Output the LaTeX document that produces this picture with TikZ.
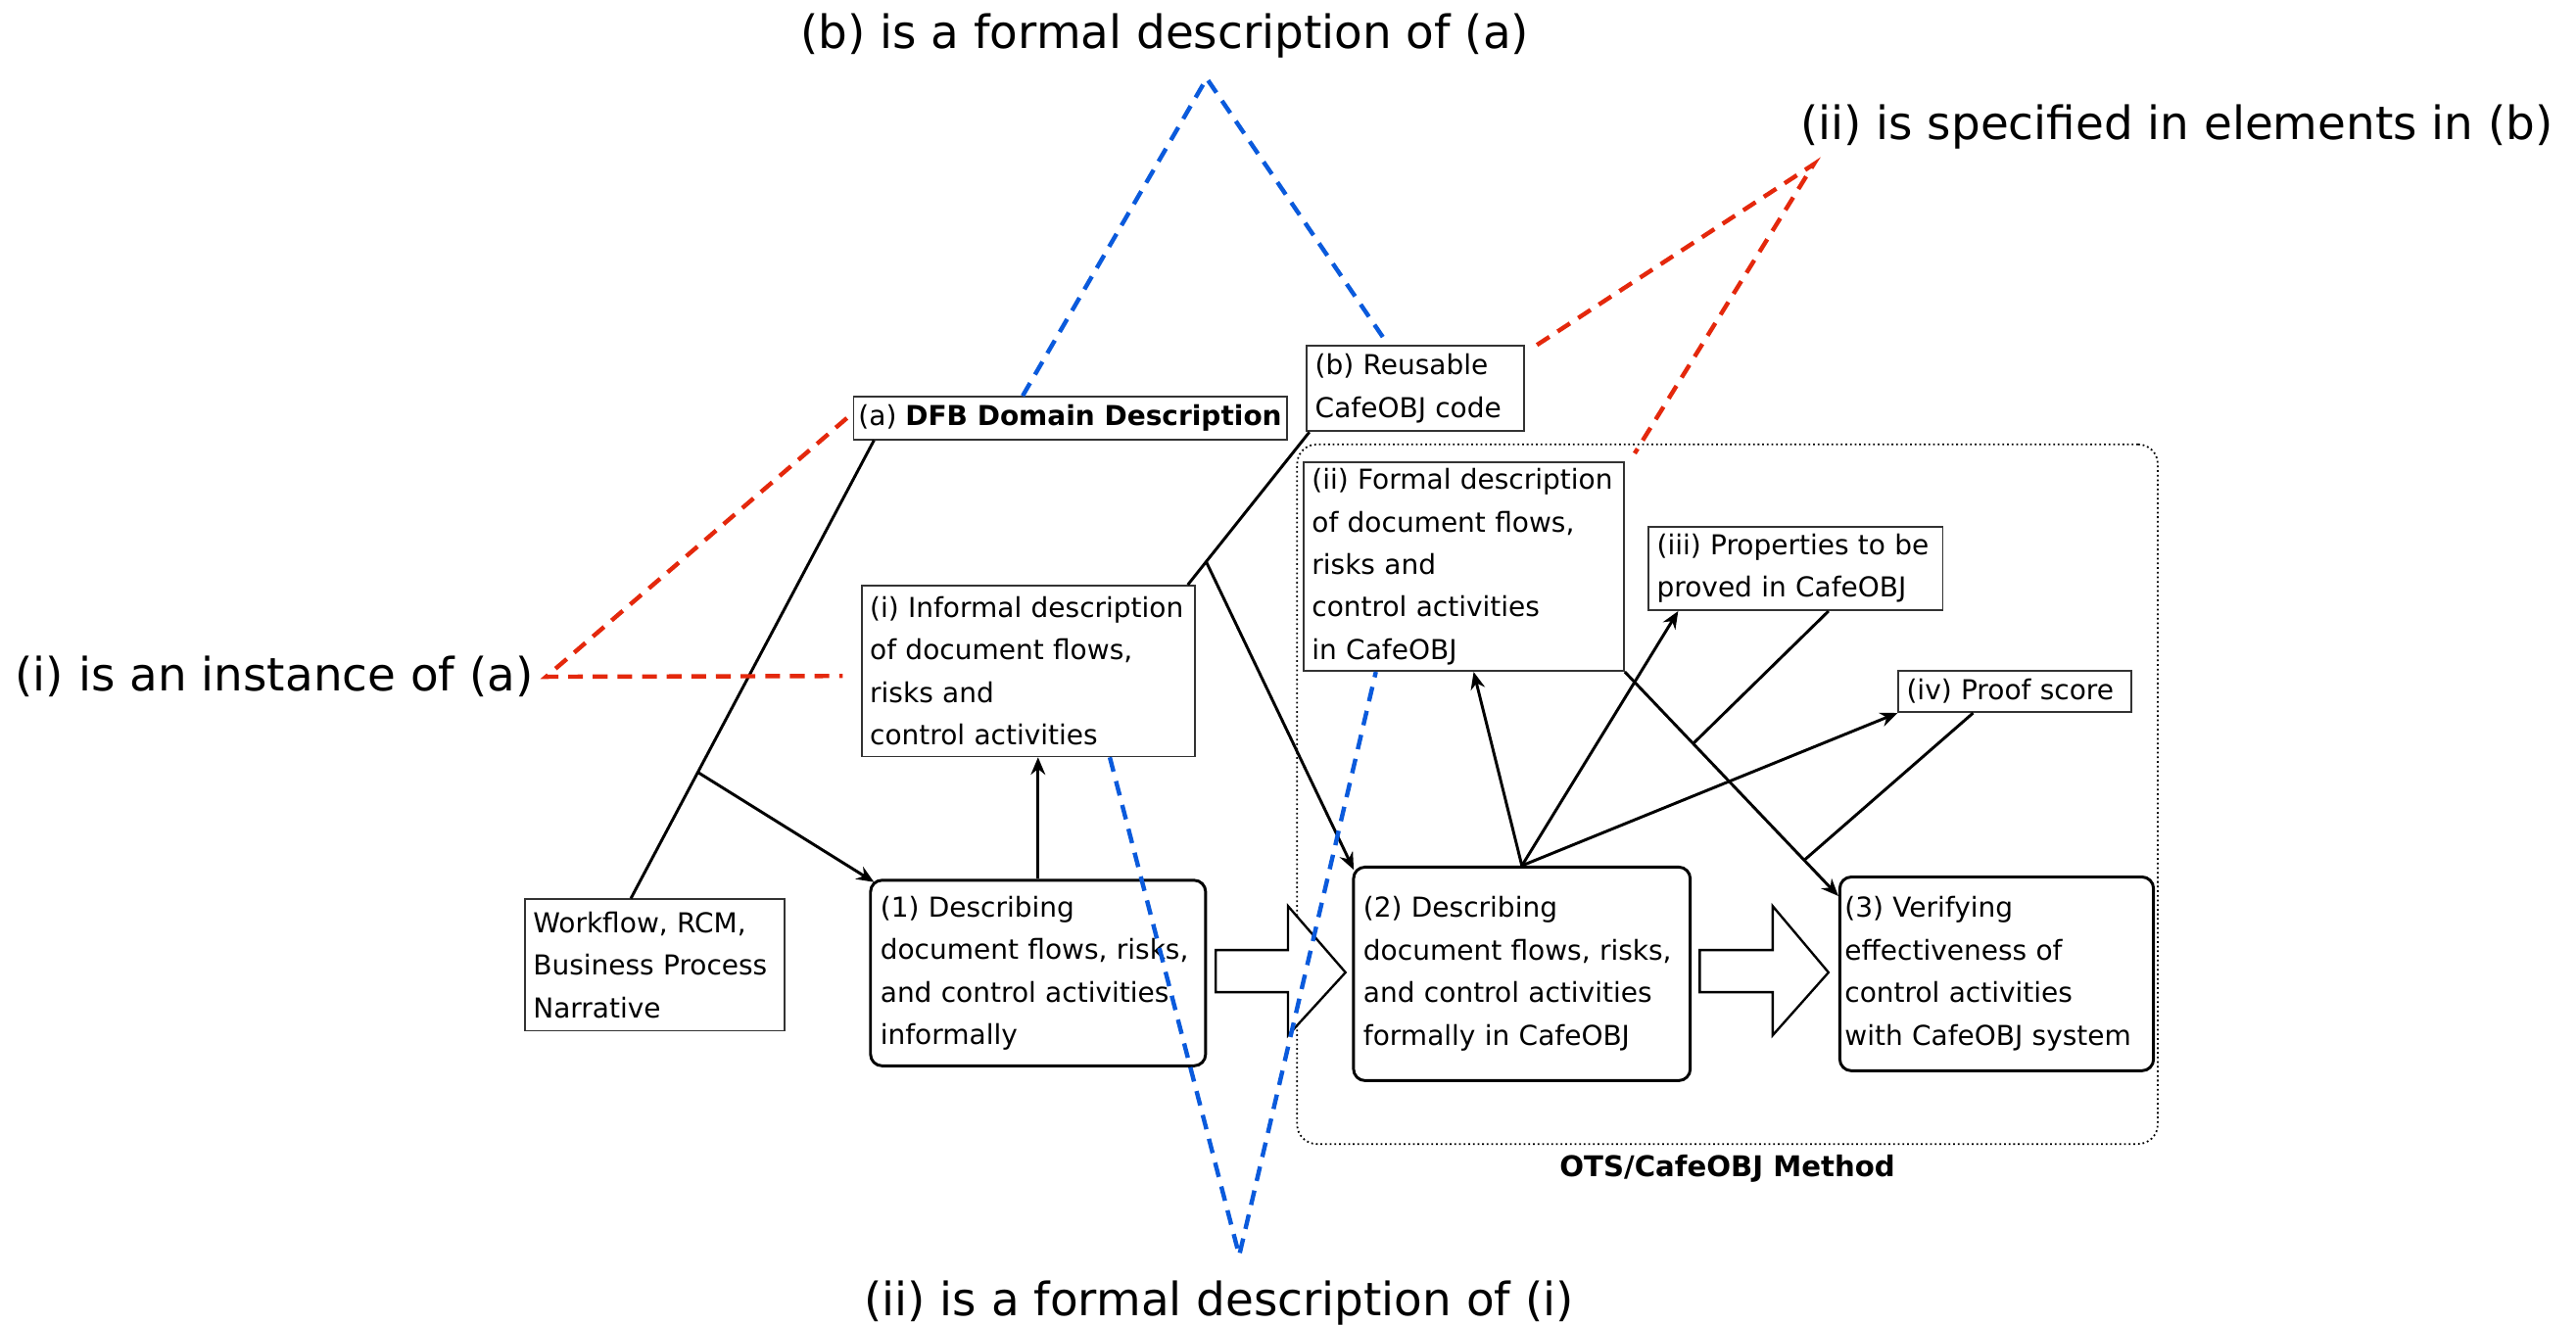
\documentclass[tikz,border=0pt]{standalone}
\usepackage{fontspec}
\setmainfont{DejaVu Sans}
\usepackage{tikz}
\usetikzlibrary{arrows.meta, positioning, calc}
\definecolor{dashblue}{RGB}{10,90,220}
\definecolor{dashred}{RGB}{228,40,12}
\tikzset{
  box/.style={rectangle, draw=black!80, line width=0.6pt, anchor=north west,
    align=left, inner xsep=0.1cm, inner ysep=0.05cm,
    font=\fontsize{9.5}{14.74}\selectfont},
  stepbox/.style={box, draw=black, line width=1pt, rounded corners=4pt, inner xsep=0.12cm},
  methodbox/.style={rectangle, draw=black, densely dotted, line width=0.6pt,
    rounded corners=0.24cm, anchor=north west},
  arrow/.style={-{Stealth[length=6pt,width=5pt]}, line width=1pt},
  link/.style={line width=1pt},
  fatarrow/.style={draw, fill=white, line width=0.8pt, line join=miter},
  bluedash/.style={dashblue, line width=1.5pt, dash pattern=on 0.18cm off 0.12cm},
  reddash/.style={dashred, line width=1.5pt, dash pattern=on 0.18cm off 0.12cm},
  anno/.style={font=\fontsize{15.9}{19}\selectfont, inner sep=0pt}
}

\begin{document}
\begin{tikzpicture}[x=0.02cm, y=-0.02cm]
  \useasboundingbox (0,0) rectangle (1568,807);

  % OTS/CafeOBJ frame
  \node[methodbox, minimum width=10.48cm, minimum height=8.52cm] (method) at (789,270) {};
  \node[below=0pt of method, font=\fontsize{9.9}{12}\selectfont\bfseries] (methodlbl) {OTS/CafeOBJ Method};

  % boxes
  \node[box, inner xsep=0.06cm, minimum width=5.24cm, minimum height=0.52cm] (descA) at (519,241) {(a) \textbf{DFB Domain Description}};
  \node[box, text width=2.44cm, minimum height=1.04cm] (codeB) at (795,210) {(b) Reusable\\CafeOBJ code};
  \node[box, text width=3.86cm, minimum height=2.08cm] (infoI) at (524,356) {(i) Informal description\\of document flows,\\risks and\\control activities};
  \node[box, text width=2.96cm, minimum height=1.6cm] (workflow) at (319,547) {Workflow, RCM,\\Business Process\\Narrative};
  \node[box, text width=3.7cm, minimum height=2.54cm] (formII) at (793,281) {(ii) Formal description\\of document flows,\\risks and\\control activities\\in CafeOBJ};
  \node[box, text width=3.38cm, minimum height=1.02cm] (propIII) at (1003,320) {(iii) Properties to be\\proved in CafeOBJ};
  \node[box, text width=2.64cm, minimum height=0.5cm] (proofIV) at (1155,408) {(iv) Proof score};

  % steps
  \node[stepbox, text width=3.84cm, minimum height=2.26cm] (step1) at (529,535) {(1) Describing\\document flows, risks,\\and control activities\\informally};
  \node[stepbox, text width=3.86cm, minimum height=2.6cm] (step2) at (823,527) {(2) Describing\\document flows, risks,\\and control activities\\formally in CafeOBJ};
  \node[stepbox, inner xsep=0.06cm, text width=3.7cm, minimum height=2.36cm] (step3) at (1119,533) {(3) Verifying\\effectiveness of\\control activities\\with CafeOBJ system};

  % fat arrows between steps
  \draw[fatarrow] (740,578.4) -- (784,578.4) -- (784,551.6) -- (819,592) -- (784,630.3) -- (784,604) -- (740,604) -- cycle;
  \draw[fatarrow] (1034.6,578.4) -- (1079,578.4) -- (1079,551.6) -- (1113,592) -- (1079,630.3) -- (1079,604) -- (1034.6,604) -- cycle;

  % inputs of (1)
  \draw[link] ([xshift=0.26cm]descA.south west) coordinate (aFoot)
    -- ([xshift=1.3cm]workflow.north west) coordinate (wHead);
  \coordinate (joinA) at ($(aFoot)!0.7245!(wHead)$);
  \draw[arrow] (joinA) -- ([shift={(0.06cm,-0.04cm)}]step1.north west);
  \draw[arrow] (step1.north) -- (step1.north |- infoI.south);

  % inputs of (2)
  \draw[link] ([xshift=0.04cm]codeB.south west) coordinate (bFoot)
    -- ([xshift=-0.1cm]infoI.north east) coordinate (iHead);
  \coordinate (joinB) at ($(bFoot)!0.849!(iHead)$);
  \draw[arrow] (joinB) -- ([shift={(0.02cm,-0.05cm)}]step2.north west);

  % outputs of (2)
  \draw[arrow] (step2.north) -- ([xshift=0.12cm]formII.south);
  \draw[arrow] (step2.north) -- ([xshift=0.37cm]propIII.south west);
  \draw[arrow] (step2.north) -- (proofIV.south west);

  % inputs of (3)
  \draw[arrow] (formII.south east) coordinate (iiFoot)
    -- ([yshift=-0.25cm]step3.north west) coordinate (vHead);
  \coordinate (joinIII) at ($(iiFoot)!0.32!(vHead)$);
  \coordinate (joinIV) at ($(iiFoot)!0.84!(vHead)$);
  \draw[link] ([xshift=0.4cm]propIII.south) -- (joinIII);
  \draw[link] ([xshift=-0.51cm]proofIV.south) -- (joinIV);

  % (b) is a formal description of (a)
  \node[anno] (annoB) at (709,22) {(b) is a formal description of (a)};
  \coordinate (apexB) at (734.5,47.7);
  \draw[bluedash] ([xshift=2.07cm]descA.north west) -- (apexB) -- ([xshift=1cm]codeB.north west);

  % (ii) is specified in elements in (b)
  \node[anno] (annoS) at (1325,77.5) {(ii) is specified in elements in (b)};
  \coordinate (apexS) at (1104,100);
  \draw[reddash] ([xshift=0.15cm]codeB.north east) -- (apexS) -- ([shift={(0.12cm,0.1cm)}]formII.north east);

  % (i) is an instance of (a)
  \node[anno] (annoI) at (167,412) {(i) is an instance of (a)};
  \coordinate (apexI) at (332.4,412);
  \draw[reddash] ([xshift=-0.07cm]descA.west) -- (apexI) -- ([xshift=-0.22cm, yshift=-0.06cm]infoI.west);

  % (ii) is a formal description of (i)
  \node[anno] (annoF) at (742,793) {(ii) is a formal description of (i)};
  \coordinate (apexF) at (754.3,764.3);
  \draw[bluedash] ([xshift=-1.05cm]infoI.south east) -- (apexF) -- ([xshift=0.89cm]formII.south west);
\end{tikzpicture}
\end{document}
